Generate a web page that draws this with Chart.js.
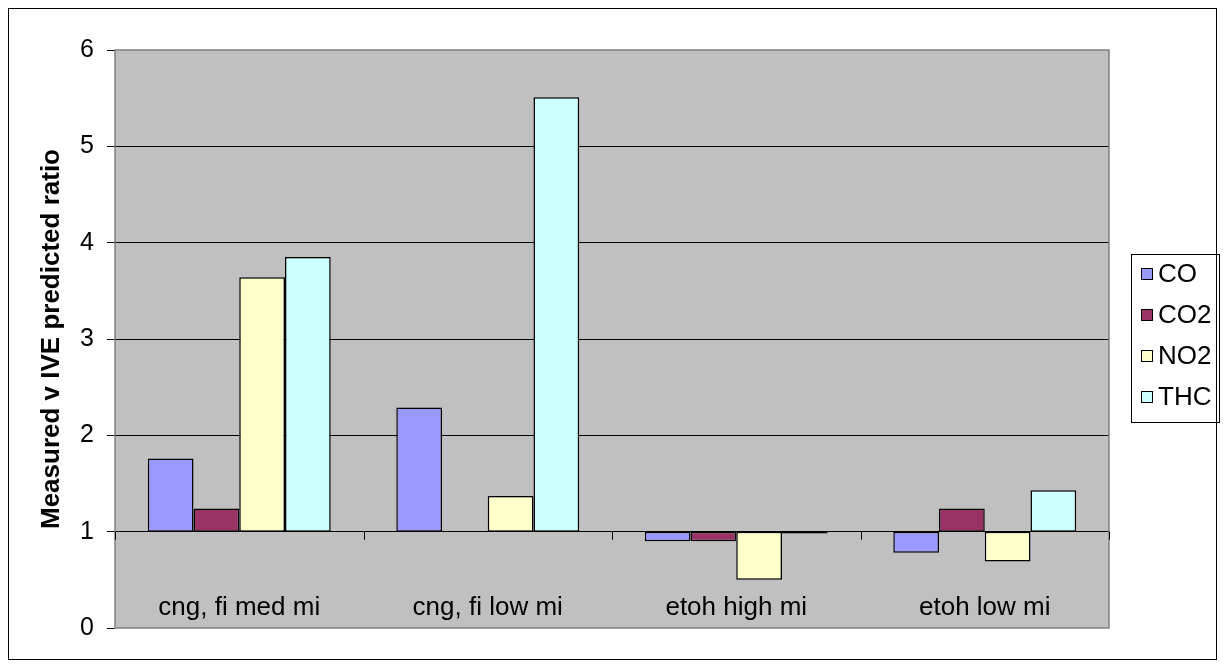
<!DOCTYPE html>
<html>
<head>
<meta charset="utf-8">
<script src="https://cdn.jsdelivr.net/npm/chart.js@4/dist/chart.umd.min.js"></script>
<style>
  body { margin: 0; background: #fff; }
</style>
</head>
<body>
<canvas id="myChart" width="1225" height="667"></canvas>
<script>
// categories and series (ratios, bars start at 1)
const categories = ['cng, fi med mi', 'cng, fi low mi', 'etoh high mi', 'etoh low mi'];
const seriesNames = ['CO', 'CO2', 'NO2', 'THC'];
const coValues  = [1.76, 2.29, 0.90, 0.78];
const co2Values = [1.24, null, 0.90, 1.24];
const no2Values = [3.64, 1.37, 0.50, 0.69];
const thcValues = [3.85, 5.51, 0.98, 1.43];
const yTicks = [0, 1, 2, 3, 4, 5, 6];
const baseValue = 1;

const colors = ['#9999FF', '#993366', '#FFFFCC', '#CCFFFF'];
const font = '"Liberation Sans", Arial, sans-serif';

function floating(values) {
  return values.map(v => v === null ? null : [baseValue, v]);
}

let allValues = [coValues, co2Values, no2Values, thcValues];

// plot background, category labels, category ticks, legend, outer frame
const excelLook = {
  id: 'excelLook',
  beforeDraw(chart) {
    const ctx = chart.ctx;
    const a = chart.chartArea;
    ctx.save();
    ctx.fillStyle = '#C0C0C0';
    ctx.fillRect(a.left, a.top, a.right - a.left, a.bottom - a.top);
    ctx.restore();
  },
  beforeDatasetsDraw(chart) {
    const ctx = chart.ctx;
    const a = chart.chartArea;
    ctx.save();
    ctx.strokeStyle = '#808080';
    ctx.lineWidth = 1.5;
    ctx.strokeRect(a.left, a.top, a.right - a.left, a.bottom - a.top);
    ctx.restore();
  },
  afterDatasetsDraw(chart) {
    const ctx = chart.ctx;
    const a = chart.chartArea;
    const x = chart.scales.x;
    const y = chart.scales.y;
    const baseY = y.getPixelForValue(baseValue);
    ctx.save();
    // category boundary ticks on the axis at 1
    ctx.strokeStyle = '#000';
    ctx.lineWidth = 1;
    const step = x.getPixelForValue(1) - x.getPixelForValue(0);
    for (let i = 0; i <= categories.length; i++) {
      const px = Math.round(x.getPixelForValue(0) - step / 2 + i * step) + 0.5;
      ctx.beginPath();
      ctx.moveTo(px, baseY);
      ctx.lineTo(px, baseY + 8);
      ctx.stroke();
    }
    // category labels near the bottom of the plot
    ctx.fillStyle = '#000';
    ctx.font = '26px ' + font;
    ctx.textAlign = 'center';
    ctx.textBaseline = 'middle';
    categories.forEach((c, i) => {
      ctx.fillText(c, x.getPixelForValue(i), a.bottom - 20);
    });
    ctx.restore();
  },
  afterDraw(chart) {
    const ctx = chart.ctx;
    ctx.save();
    // legend
    ctx.strokeStyle = '#000';
    ctx.lineWidth = 1;
    ctx.strokeRect(1131.5, 254.5, 88, 168);
    ctx.font = '26px ' + font;
    ctx.textAlign = 'left';
    ctx.textBaseline = 'middle';
    chart.data.datasets.forEach((ds, i) => {
      const cy = 274 + i * 41;
      ctx.fillStyle = ds.backgroundColor;
      ctx.fillRect(1141, cy - 6, 12, 12);
      ctx.strokeRect(1141.5, cy - 5.5, 11, 11);
      ctx.fillStyle = '#000';
      ctx.fillText(ds.label, 1158, cy + 1);
    });
    // outer frame
    ctx.strokeRect(8.5, 8.5, 1208, 651);
    ctx.restore();
  }
};

let ctx = document.getElementById('myChart').getContext('2d');
let chart = new Chart(ctx, {
  type: 'bar',
  data: {
    labels: categories,
    datasets: seriesNames.map((name, i) => ({
      label: name,
      data: floating(allValues[i]),
      backgroundColor: colors[i],
      borderColor: '#000',
      borderWidth: 1.5,
      borderSkipped: false,
      categoryPercentage: 0.736,
      barPercentage: 1
    }))
  },
  options: {
    responsive: false,
    animation: false,
    devicePixelRatio: 1,
    layout: { padding: { left: 0, top: 50, right: 116, bottom: 39 } },
    plugins: {
      legend: { display: false },
      tooltip: { enabled: false }
    },
    scales: {
      x: {
        display: false
      },
      y: {
        min: 0,
        max: 6,
        afterFit(scale) { scale.width = 115; },
        afterBuildTicks(scale) { scale.ticks = yTicks.map(v => ({ value: v })); },
        border: { display: false },
        grid: {
          color: c => (c.tick.value === 0 || c.tick.value === 6) ? 'rgba(0,0,0,0)' : '#000',
          lineWidth: 1,
          tickColor: '#000',
          tickLength: 8,
          drawTicks: true
        },
        ticks: {
          color: '#000',
          font: { family: font, size: 25 },
          padding: 13
        },
        title: {
          display: true,
          text: 'Measured v IVE predicted ratio',
          color: '#000',
          font: { family: font, size: 26, weight: 'bold' },
          padding: { top: 36, bottom: 0 }
        }
      }
    }
  },
  plugins: [excelLook]
});
</script>
</body>
</html>
